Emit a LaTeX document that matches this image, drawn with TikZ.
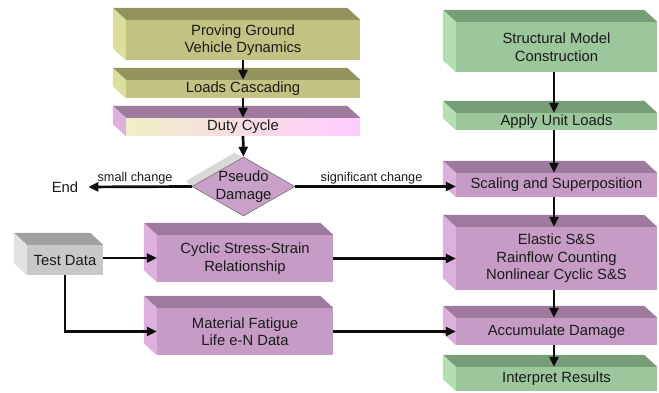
\documentclass[tikz,border=0pt]{standalone}
\usepackage{fontspec}
\setmainfont{Liberation Sans}
\usetikzlibrary{arrows.meta,shapes.geometric,calc}
\definecolor{olF}{HTML}{C2C282}
\definecolor{olT}{HTML}{93935E}
\definecolor{olL}{HTML}{DCDE9C}
\definecolor{grF}{HTML}{9CC69C}
\definecolor{grT}{HTML}{789E78}
\definecolor{grL}{HTML}{B2E0B2}
\definecolor{puF}{HTML}{C69CC6}
\definecolor{puT}{HTML}{9E7A9E}
\definecolor{puL}{HTML}{DEB0DE}
\definecolor{gyF}{HTML}{C8C8C8}
\definecolor{gyT}{HTML}{A0A0A0}
\definecolor{gyL}{HTML}{E2E2E2}
\definecolor{dcL}{HTML}{EFEEC6}
\definecolor{dcR}{HTML}{FFCCFF}
\definecolor{txt}{HTML}{1A1A1A}
\definecolor{dia}{HTML}{C8A0C8}
\definecolor{strip}{HTML}{D8D8D8}
\newcommand\boxfaces[3]{%
  \fill[#2] (#1.north west) -- (#1.north east) -- ([shift={(-13,-12)}]#1.north east) -- ([shift={(-13,-12)}]#1.north west) -- cycle;
  \fill[#3] (#1.north west) -- ([shift={(-13,-12)}]#1.north west) -- ([shift={(-13,-12)}]#1.south west) -- (#1.south west) -- cycle;
}
\tikzset{
  cube/.style={inner sep=0pt, align=center, text=txt, font=\fontsize{14.8pt}{17.5pt}\selectfont},
  lbl/.style={text=txt, font=\fontsize{12.7pt}{15pt}\selectfont, inner sep=1.5pt},
  arr/.style={line width=2.7pt, draw=black!95, -{Triangle[length=10pt,width=9pt]}},
}
\begin{document}
\begin{tikzpicture}[x=1pt,y=-1pt]
\useasboundingbox (0,0) rectangle (659,393);
% left column
\node[cube, fill=olF, minimum width=234pt, minimum height=40pt] (pg) at (243,40) {Proving Ground\\Vehicle Dynamics};
\node[cube, fill=olF, minimum width=234pt, minimum height=18pt] (lc) at (243,89) {Loads Cascading};
\node[cube, left color=dcL, right color=dcR, minimum width=234pt, minimum height=18pt] (dc) at (243,127) {Duty Cycle};
\boxfaces{pg}{olT}{olL}
\boxfaces{lc}{olT}{olL}
\boxfaces{dc}{puT}{puL}
% diamond
\fill[strip] (186,181) -- (234,153) -- (242,157) -- (192,187) -- cycle;
\node[diamond, minimum width=103pt, minimum height=59pt, inner sep=0pt, fill=dia, draw=black!60, line width=0.5pt] (pd) at (243.5,186.5) {};
\node[cube, font=\fontsize{14.8pt}{18pt}\selectfont] at (pd) {Pseudo\\Damage};
\node[cube] (endn) at (65,187) {End};
% right column
\node[cube, fill=grF, minimum width=201pt, minimum height=50pt] (sm) at (556.5,47) {Structural Model\\Construction};
\node[cube, fill=grF, minimum width=201pt, minimum height=17pt] (au) at (556.5,121.5) {Apply Unit Loads};
\node[cube, fill=puF, minimum width=201pt, minimum height=24pt] (ss) at (556.5,185) {Scaling and Superposition};
\node[cube, fill=puF, minimum width=201pt, minimum height=63pt] (el) at (556.5,258.5) {Elastic S\&S\\Rainflow Counting\\Nonlinear Cyclic S\&S};
\node[cube, fill=puF, minimum width=201pt, minimum height=27pt] (ad) at (556.5,331.5) {Accumulate Damage};
\node[cube, fill=grF, minimum width=201pt, minimum height=24pt] (ir) at (556.5,379) {Interpret Results};
\boxfaces{sm}{grT}{grL}
\boxfaces{au}{grT}{grL}
\boxfaces{ss}{puT}{puL}
\boxfaces{el}{puT}{puL}
\boxfaces{ad}{puT}{puL}
\boxfaces{ir}{grT}{grL}
% lower left
\node[cube, fill=gyF, minimum width=76pt, minimum height=30pt] (td) at (65,260) {Test Data};
\node[cube, fill=puF, minimum width=176pt, minimum height=47pt] (cs) at (245,258.5) {Cyclic Stress-Strain\\Relationship};
\node[cube, fill=puF, minimum width=176pt, minimum height=47pt] (mf) at (245,331.5) {Material Fatigue\\Life e-N Data};
\boxfaces{td}{gyT}{gyL}
\boxfaces{cs}{puT}{puL}
\boxfaces{mf}{puT}{puL}
% arrows
\draw[arr] (pg.south) -- (lc.north);
\draw[arr] (lc.south) -- (dc.north);
\draw[arr] (dc.south) -- (pd.north);
\draw[arr, shorten >=10pt] (pd.west) -- node[lbl, above] {small change} (endn.east);
\draw[arr] (pd.east) -- node[lbl, above, xshift=-4pt] {significant change} (pd.east -| ss.west);
\draw[arr] (sm.south -| 554,0) -- (au.north -| 554,0);
\draw[arr] (au.south -| 554,0) -- (ss.north -| 554,0);
\draw[arr] (ss.south -| 554,0) -- (el.north -| 554,0);
\draw[arr] (el.south -| 554,0) -- (ad.north -| 554,0);
\draw[arr] (ad.south -| 554,0) -- (ir.north -| 554,0);
\draw[arr] (td.east |- 0,258) -- (cs.west |- 0,258);
\draw[arr] (td.south) |- (mf.west);
\draw[arr] (cs.east) -- (el.west);
\draw[arr] (mf.east) -- (ad.west);
\end{tikzpicture}
\end{document}
